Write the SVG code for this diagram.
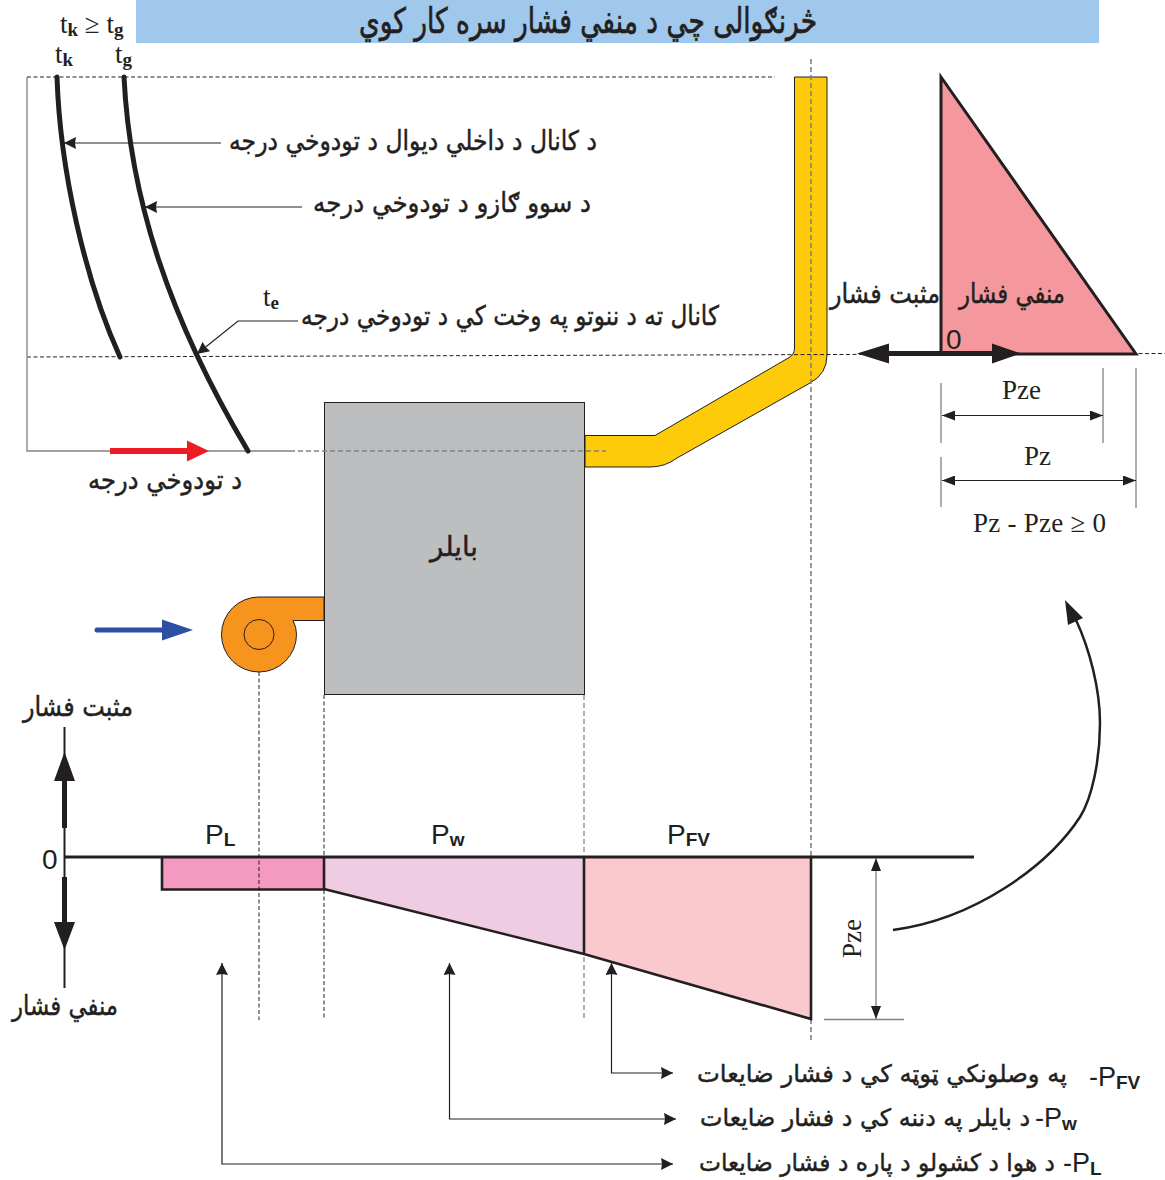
<svg xmlns="http://www.w3.org/2000/svg" width="1165" height="1180" viewBox="0 0 1165 1180">
<style>
.ar{font-family:"DejaVu Sans",sans-serif;fill:#231f20;stroke:#231f20;stroke-width:.45;font-size:27px;direction:rtl;text-anchor:middle}
.ar.sm{font-size:24px}
.tm{font-family:"Liberation Serif",serif;fill:#231f20;font-size:27px}
.sb{font-size:19px;font-weight:bold}
.ls{font-family:"Liberation Sans",sans-serif;fill:#231f20;font-size:28px}
.lb{font-size:19px;font-weight:bold}
.thin{fill:none;stroke:#231f20;stroke-width:1.2}
.dash{fill:none;stroke:#231f20;stroke-width:1;stroke-dasharray:4 2.5}
.gdash{fill:none;stroke:#808285;stroke-width:1.6;stroke-dasharray:5 3}
.grey{fill:none;stroke:#808285;stroke-width:1.3}
.heavy{fill:none;stroke:#231f20;stroke-width:5;stroke-linecap:round}
.edge{fill:none;stroke:#231f20;stroke-width:2.6}
</style>
<defs>
<marker id="a" markerUnits="userSpaceOnUse" markerWidth="14" markerHeight="10" refX="13" refY="5" orient="auto-start-reverse"><path d="M0 0L13 5L0 10Z" fill="#231f20"/></marker>
<marker id="b" markerUnits="userSpaceOnUse" markerWidth="13" markerHeight="13" refX="12" refY="6" orient="auto-start-reverse"><path d="M0 0L12 6L0 12L1 6Z" fill="#231f20"/></marker>
</defs>
<rect width="1165" height="1180" fill="#fff"/>
<g id="title"><rect x="136" y="0" width="963" height="43" fill="#a0c8ec"/>
<text class="ar" x="588" y="33" style="font-size:35px;stroke-width:.7" textLength="458" lengthAdjust="spacingAndGlyphs">څرنګوالی چي د منفي فشار سره کار کوي</text></g>
<g id="duct"><path d="M794.500 77H827V355Q827 374 810 383L677 458Q665 467 650 467H585V435.500H655L790 357Q794.500 354 794.500 348Z" fill="#fdcb0a" stroke="#231f20" stroke-width="1"/></g>
<g id="boiler"><rect x="324.500" y="402.500" width="260" height="292" fill="#bcbec0" stroke="#231f20" stroke-width="1"/>
<text class="ar" x="454" y="556" textLength="48" lengthAdjust="spacingAndGlyphs">بايلر</text></g>
<g id="guides">
<path class="dash" d="M27 77H775"/>
<path class="dash" d="M27 357L1165 353.500"/>
<path class="gdash" d="M290 451H606"/>
<path class="gdash" d="M811 59V1040"/>
</g>
<g id="temperature-chart">
<path class="grey" d="M27 77V451H290"/>
<path class="heavy" d="M57 77C60 170 85 280 120 357"/>
<path class="heavy" d="M124 77C130 200 170 320 248 451"/>
<path d="M110 448H187V440.500L209 451L187 461.500V454H110Z" fill="#ed1c24"/>
<text class="tm" x="60" y="33">t<tspan class="sb" dy="3">k</tspan><tspan dy="-3"> ≥ t</tspan><tspan class="sb" dy="3">g</tspan></text>
<text class="tm" x="55" y="63">t<tspan class="sb" dy="3">k</tspan></text>
<text class="tm" x="115" y="63">t<tspan class="sb" dy="3">g</tspan></text>
<text class="tm" x="263" y="306">t<tspan class="sb" dy="3">e</tspan></text>
<text class="ar" x="413" y="150" textLength="368" lengthAdjust="spacingAndGlyphs">د کانال د داخلي ديوال د تودوخي درجه</text>
<text class="ar" x="452" y="212" textLength="278" lengthAdjust="spacingAndGlyphs">د سوو ګازو د تودوخي درجه</text>
<text class="ar" x="510" y="325" textLength="418" lengthAdjust="spacingAndGlyphs">کانال ته د ننوتو په وخت کي د تودوخي درجه</text>
<text class="ar" x="165" y="489" textLength="154" lengthAdjust="spacingAndGlyphs">د تودوخي درجه</text>
</g>
<g id="fan"><path d="M324 597H259A37.500 37.500 0 1 0 296.500 634.500Q296.500 627 293 620.500H324Z" fill="#f7941d" stroke="#231f20" stroke-width="1"/><circle cx="259" cy="634.500" r="15" fill="#f7941d" stroke="#231f20" stroke-width="1"/>
<path d="M97 627.500H162V619.500L193 630L162 640.500V632.500H97Q94.500 632.500 94.500 630Q94.500 627.500 97 627.500Z" fill="#2b4fa2"/></g>
<g id="pressure-triangle"><path d="M941 77L1136 354H941Z" fill="#f5989d" stroke="#231f20" stroke-width="3"/>
<text class="ar" x="1012" y="303" textLength="106" lengthAdjust="spacingAndGlyphs">منفي فشار</text>
<text class="ar" x="885" y="303" textLength="110" lengthAdjust="spacingAndGlyphs">مثبت فشار</text>
<text class="ls" x="946" y="349">0</text>
<path d="M880 353.500H1000" stroke="#231f20" stroke-width="5"/>
<path d="M857 353.500L889 343.500V363.500ZM1021 353.500L992 343.500V363.500Z" fill="#231f20"/>
<path class="grey" d="M941 383V443M1103 368V443M941 457V507M1136 368V508"/>
<path class="thin" marker-start="url(#a)" marker-end="url(#a)" d="M942 415.500H1103"/>
<path class="thin" marker-start="url(#a)" marker-end="url(#a)" d="M942 480.500H1136"/>
<text class="tm" x="1002" y="399">Pze</text>
<text class="tm" x="1024" y="465">Pz</text>
<text class="tm" x="973" y="532" textLength="133">Pz - Pze ≥ 0</text>
</g>
<g id="pressure-chart">
<path d="M162 857H324V889H162Z" fill="#f49ac1"/>
<path d="M324 857H584V954L324 889Z" fill="#eecde3"/>
<path d="M584 857H811V1019L584 954Z" fill="#f9c9ce"/>
<path class="edge" d="M162 857V889.500H324V857M324 889L584 954L811 1019V857M584 857V954"/>
<path d="M65 857H974" stroke="#231f20" stroke-width="3" fill="none"/>
<path d="M64.500 727V988" stroke="#231f20" stroke-width="2" fill="none"/>
<path d="M64.500 775V828M64.500 877V925" stroke="#231f20" stroke-width="5" fill="none"/>
<path d="M64.500 752L75 781H54ZM64.500 950L54 922H75Z" fill="#231f20"/>
<text class="ls" x="42" y="869">0</text>
<text class="ar" x="78" y="716" textLength="110" lengthAdjust="spacingAndGlyphs">مثبت فشار</text>
<text class="ar" x="65" y="1015" textLength="106" lengthAdjust="spacingAndGlyphs">منفي فشار</text>
<text class="ls" x="205" y="844">P<tspan class="lb" dy="2">L</tspan></text>
<text class="ls" x="431" y="844">P<tspan class="lb" dy="2">w</tspan></text>
<text class="ls" x="667" y="844">P<tspan class="lb" dy="2">FV</tspan></text>
<text class="tm" transform="translate(861 958) rotate(-90)">Pze</text>
<path class="grey" marker-start="url(#a)" marker-end="url(#a)" d="M876 858V1019"/>
<path class="grey" d="M824 1019.500H904"/>
</g>
<g id="connectors">
<path class="thin" marker-end="url(#b)" d="M221 143H64"/>
<path class="thin" marker-end="url(#b)" d="M302 207H145"/>
<path class="thin" marker-end="url(#b)" d="M298 321H238L197 354"/>
<path class="dash" d="M259 672V1020M324 695V1020"/>
<path class="gdash" style="stroke-width:1.2" d="M584 695V856M584 957V1020"/>
<path d="M893 930C975 919 1048 866 1080 817C1092 798 1100 760 1100 723C1100 690 1090 650 1076 620" fill="none" stroke="#231f20" stroke-width="2.500"/>
<path d="M1065 600L1083 618L1068 625Z" fill="#231f20"/>
<path class="thin" marker-start="url(#b)" marker-end="url(#b)" d="M611.500 963V1073H673"/>
<path class="thin" marker-start="url(#b)" marker-end="url(#b)" d="M449.500 963V1119H676"/>
<path class="thin" marker-start="url(#b)" marker-end="url(#b)" d="M222 963V1164H673"/>
</g>
<g id="loss-labels">
<text class="ar sm" x="882" y="1082" textLength="370" lengthAdjust="spacingAndGlyphs">په وصلونکي ټوټه کي د فشار ضايعات</text>
<text class="ls" x="1089" y="1086" style="font-size:27px">-P<tspan class="lb" dy="3">FV</tspan></text>
<text class="ar sm" x="865" y="1126" textLength="330" lengthAdjust="spacingAndGlyphs">د بايلر په دننه کي د فشار ضايعات</text>
<text class="ls" x="1035" y="1127" style="font-size:27px">-P<tspan class="lb" dy="3">w</tspan></text>
<text class="ar sm" x="877" y="1171" textLength="356" lengthAdjust="spacingAndGlyphs">د هوا د کشولو د پاره د فشار ضايعات</text>
<text class="ls" x="1063" y="1172" style="font-size:27px">-P<tspan class="lb" dy="3">L</tspan></text>
</g>
</svg>
